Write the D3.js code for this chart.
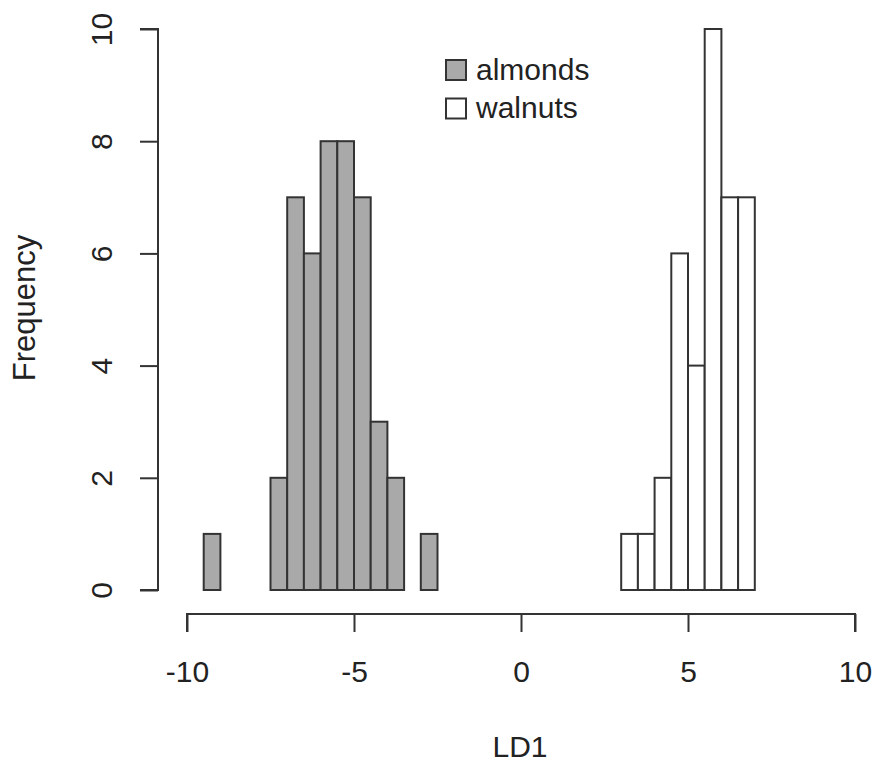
<!DOCTYPE html>
<html lang="en">
<head>
<meta charset="UTF-8">
<title>LD1 histogram</title>
<script src="https://d3js.org/d3.v7.min.js"></script>
<style>
  body { margin: 0; background: #fff; }
  text { font-family: Arial, "Liberation Sans", sans-serif; fill: #222; }
</style>
</head>
<body>
<svg width="876" height="766"></svg>
<script>
// histogram breaks: -10 .. 10, width 0.5
const breakStart = -10;
const binWidth = 0.5;
// counts per bin, left to right (40 bins)
const almonds = [0,1,0,0,0,2,7,6,8,8,7,3,2,0,1,0,0,0,0,0,
                 0,0,0,0,0,0,0,0,0,0,0,0,0,0,0,0,0,0,0,0];
const walnuts = [0,0,0,0,0,0,0,0,0,0,0,0,0,0,0,0,0,0,0,0,
                 0,0,0,0,0,0,1,1,2,6,4,10,7,7,0,0,0,0,0,0];
const xTicks = [-10, -5, 0, 5, 10];
const yTicks = [0, 2, 4, 6, 8, 10];
const legendNames = ["almonds", "walnuts"];
const fills = ["#a9a9a9", "#ffffff"];

const svg = d3.select("svg");
const x = d3.scaleLinear().domain([-10, 10]).range([187, 855]);
const y = d3.scaleLinear().domain([0, 10]).range([590, 29]);
const ink = "#333";

function bins(counts) {
  return counts.map((c, i) => ({ x0: breakStart + i * binWidth, x1: breakStart + (i + 1) * binWidth, n: c }));
}

[almonds, walnuts].forEach((counts, k) => {
  svg.append("g").selectAll("rect").data(bins(counts)).join("rect")
    .attr("x", d => x(d.x0))
    .attr("y", d => y(d.n))
    .attr("width", d => x(d.x1) - x(d.x0))
    .attr("height", d => y(0) - y(d.n))
    .attr("fill", fills[k])
    .attr("stroke", ink)
    .attr("stroke-width", 2);
});

// x axis
const xa = svg.append("g").attr("transform", "translate(0,614)")
  .call(d3.axisBottom(x).tickValues(xTicks).tickSize(18).tickFormat(d => String(d)));
xa.select(".domain").attr("d", `M${x(-10)},18V0H${x(10)}V18`).attr("stroke", ink).attr("stroke-width", 2);
xa.selectAll("line").attr("stroke", ink).attr("stroke-width", 2);
xa.selectAll("text").attr("font-size", 30).attr("fill", "#222")
  .attr("y", 68).attr("dy", null);

// y axis
const ya = svg.append("g").attr("transform", "translate(158,0)")
  .call(d3.axisLeft(y).tickValues(yTicks).tickSize(18).tickFormat(d => String(d)));
ya.select(".domain").attr("d", `M-18,${y(0)}H0V${y(10)}H-18`).attr("stroke", ink).attr("stroke-width", 2);
ya.selectAll("line").attr("stroke", ink).attr("stroke-width", 2);
ya.selectAll("text")
  .attr("font-size", 30).attr("fill", "#222")
  .attr("x", null).attr("dy", null)
  .attr("text-anchor", "middle")
  .attr("transform", "translate(-46,0) rotate(-90)");

// axis titles
svg.append("text").attr("x", 520).attr("y", 757).attr("text-anchor", "middle")
  .attr("font-size", 30).text("LD1");
svg.append("text").attr("transform", "translate(35,308) rotate(-90)").attr("text-anchor", "middle")
  .attr("font-size", 31).text("Frequency");

// legend
const lg = svg.append("g").selectAll("g").data(legendNames).join("g")
  .attr("transform", (d, i) => `translate(446,${60 + i * 38.5})`);
lg.append("rect").attr("width", 20).attr("height", 20)
  .attr("fill", (d, i) => fills[i]).attr("stroke", ink).attr("stroke-width", 2);
lg.append("text").attr("x", 30).attr("y", 19.5)
  .attr("font-size", 30).text(d => d);
</script>
</body>
</html>
